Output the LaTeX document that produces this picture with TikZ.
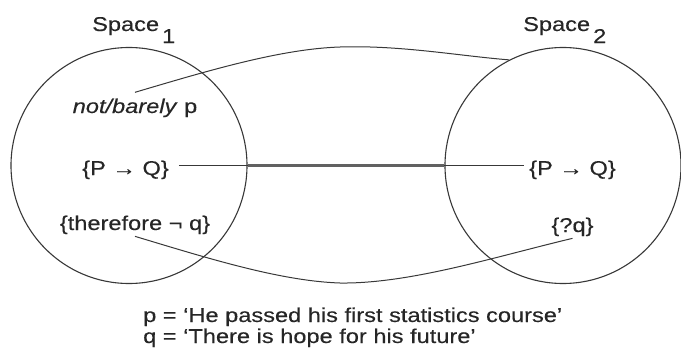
\documentclass[tikz,border=0pt]{standalone}
\usepackage{fontspec}
\setmainfont[FakeStretch=1.18,FakeBold=0.3]{Liberation Sans}
\begin{document}
\begin{tikzpicture}[x=1pt,y=-1pt,
  txt/.style={font=\fontsize{20}{24}\selectfont, inner sep=2pt, text=black!85},
  ring/.style={draw=black!78, line width=1.1pt, circle, minimum size=236pt, inner sep=0pt},
  link/.style={draw=black!78, line width=1pt},
  bridge/.style={draw=black!62, line width=2.4pt}]
\useasboundingbox (0,0) rectangle (681,364);
% circles
\node[ring] (c1) at (129,165.5) {};
\node[ring] (c2) at (563,165.5) {};
% titles
\node[txt, anchor=base west, inner sep=0pt] (s1) at (92,31) {Space\kern3pt\raisebox{-12pt}{\fontsize{20}{20}\selectfont 1}};
\node[txt, anchor=base west, inner sep=0pt] (s2) at (523,31) {Space\kern3pt\raisebox{-12pt}{\fontsize{20}{20}\selectfont 2}};
% contents of space 1
\node[txt, anchor=base] (np) at (135,113) {\textit{not/barely} p};
\node[txt, anchor=base] (pq1) at (125.5,175) {\{P → Q\}};
\node[txt, anchor=base] (tq) at (135,230) {\{therefore ¬ q\}};
% contents of space 2
\node[txt, anchor=base] (pq2) at (572.5,175) {\{P → Q\}};
\node[txt, anchor=base] (q2) at (572.5,232) {\{?q\}};
% legend
\node[txt, anchor=base west, inner sep=0pt] (lp) at (143,322) {p = ‘He passed his first statistics course’};
\node[txt, anchor=base west, inner sep=0pt] (lq) at (143,343) {q = ‘There is hope for his future’};
% connectors
\draw[link] ([yshift=4pt]np.north) .. controls (207,71) and (280,49) .. (340,47)
  .. controls (400,45) and (460,56) .. (c2.117);
\draw[link] (tq.south) .. controls (207,258) and (280,281) .. (340,283)
  .. controls (410,284) and (498,256) .. (q2.south);
\draw[link] ([xshift=8pt,yshift=4.3pt]pq1.east) -- ([xshift=-3pt,yshift=4.3pt]pq2.west);
\draw[bridge] (c1.east) -- (c2.west);
\end{tikzpicture}
\end{document}
